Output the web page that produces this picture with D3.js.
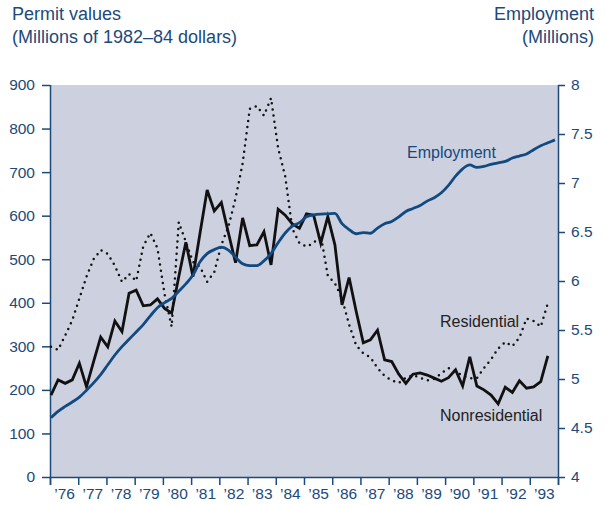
<!DOCTYPE html>
<html>
<head>
<meta charset="utf-8">
<style>
  body { margin: 0; background: #fff; }
  svg { display: block; font-family: "Liberation Sans", Arial, sans-serif; }
</style>
</head>
<body>
<div id="container"></div>
<script src="https://cdn.jsdelivr.net/npm/d3@7"></script>
<script>

// Quarterly data, 1976Q1 onward
// Nonresidential permit values (millions of 1982-84 dollars)
const nonres = [188,223,215,223,261,207,265,321,299,358,
  334,422,429,393,395,409,387,376,460,539,
  460,560,659,611,630,560,492,595,531,533,
  563,487,615,601,581,571,604,601,537,598,
  533,395,458,380,308,315,337,269,265,236,
  215,236,239,234,227,220,228,246,209,276,
  209,200,188,168,206,194,221,204,207,219,278];

// Residential permit values (millions of 1982-84 dollars)
const resid = [299,292,325,360,410,460,500,521,512,485,
  448,466,450,530,560,525,420,345,585,540,
  494,483,448,470,533,575,640,720,845,852,
  830,870,755,690,570,537,529,537,556,462,
  445,410,350,302,284,275,250,232,222,216,
  228,234,228,222,225,238,250,243,232,227,
  227,250,270,295,310,300,320,364,358,345,399];

// Employment (millions)
const employment = [4.605,4.67,4.72,4.765,4.815,4.885,4.96,5.045,5.145,5.245,
  5.33,5.405,5.48,5.555,5.645,5.728,5.78,5.823,5.895,5.97,
  6.06,6.197,6.28,6.32,6.345,6.316,6.243,6.175,6.156,6.156,
  6.205,6.28,6.39,6.49,6.56,6.595,6.655,6.675,6.683,6.685,
  6.69,6.585,6.525,6.482,6.493,6.487,6.54,6.585,6.607,6.655,
  6.71,6.74,6.77,6.815,6.85,6.9,6.975,7.07,7.145,7.184,
  7.16,7.17,7.19,7.205,7.22,7.255,7.275,7.296,7.34,7.38,7.41,7.44];

const years = d3.range(1976, 1995);
const yearLabels = d3.range(1976, 1994);
const leftTicks = d3.range(0, 901, 100);
const rightTicks = [4, 4.5, 5, 5.5, 6, 6.5, 7, 7.5, 8];

// Declare the chart dimensions and margins.
const width = 606;
const height = 505;
const marginTop = 85;
const marginRight = 48;
const marginBottom = 28;
const marginLeft = 50;

const blue = "#1c4a7a";
const lineBlue = "#114a80";

// x scale in years, and a data scale for the quarterly points
const x = d3.scaleLinear()
    .domain([1976, 1994])
    .range([marginLeft, width - marginRight]);

const xq = d3.scaleLinear()
    .domain([1976, 1993.5])
    .range([x(1976) + 1, x(1993.64)]);

const quarter = i => 1976 + i / 4;

const yL = d3.scaleLinear()
    .domain([0, 900])
    .range([height - marginBottom, marginTop]);

const yR = d3.scaleLinear()
    .domain([4, 8])
    .range([height - marginBottom, marginTop]);

const svg = d3.create("svg")
    .attr("width", width)
    .attr("height", height);

// plot background
svg.append("rect")
    .attr("x", x(1976))
    .attr("y", yL(900))
    .attr("width", x(1994) - x(1976))
    .attr("height", yL(0) - yL(900))
    .attr("fill", "#cdd0df");

/*** AXES ***/

const styleAxis = g => {
  g.selectAll("path, line").attr("stroke", blue).attr("stroke-width", 1.5);
  g.selectAll("text").attr("fill", blue).attr("font-size", 15.5)
      .attr("font-family", "Liberation Sans, Arial, sans-serif");
};

// x-axis ticks
svg.append("g")
    .attr("transform", `translate(0,${yL(0)})`)
    .call(d3.axisBottom(x).tickValues(years).tickSize(8).tickSizeOuter(0).tickFormat(""))
    .call(styleAxis);

// x-axis year labels, centred in each year
svg.append("g")
    .attr("transform", `translate(0,${yL(0)})`)
    .call(d3.axisBottom(x).tickValues(yearLabels.map(d => d + 0.5)).tickSize(0).tickPadding(11)
      .tickFormat(d => "\u2019" + String(Math.floor(d)).slice(2)))
    .call(g => g.select(".domain").remove())
    .call(styleAxis);

// left axis
svg.append("g")
    .attr("transform", `translate(${marginLeft},0)`)
    .call(d3.axisLeft(yL).tickValues(leftTicks).tickSize(8).tickSizeOuter(0).tickPadding(7))
    .call(g => g.select(".domain").attr("d", `M0.5,${yL(900)}V${yL(0) + 8}`))
    .call(styleAxis);

// right axis
svg.append("g")
    .attr("transform", `translate(${width - marginRight},0)`)
    .call(d3.axisRight(yR).tickValues(rightTicks).tickSize(7).tickSizeOuter(0).tickPadding(6)
      .tickFormat(d3.format("")))
    .call(g => g.select(".domain").attr("d", `M0.5,${yR(8)}V${yR(4) + 8}`))
    .call(styleAxis);

/*** LINES ***/

const lineL = d3.line()
    .x((d, i) => xq(quarter(i)))
    .y(d => yL(d));

const lineR = d3.line()
    .x((d, i) => xq(quarter(i)))
    .y(d => yR(d))
    .curve(d3.curveMonotoneX);

svg.append("path")
    .attr("fill", "none")
    .attr("stroke", "#111")
    .attr("stroke-width", 2.5)
    .attr("stroke-linecap", "round")
    .attr("stroke-dasharray", "0,6.2")
    .attr("d", lineL(resid));

svg.append("path")
    .attr("fill", "none")
    .attr("stroke", "#111")
    .attr("stroke-width", 2.8)
    .attr("stroke-linejoin", "miter")
    .attr("d", lineL(nonres));

svg.append("path")
    .attr("fill", "none")
    .attr("stroke", lineBlue)
    .attr("stroke-width", 2.8)
    .attr("d", lineR(employment));

/*** LABELS ***/

svg.append("text")
    .attr("x", 407).attr("y", 158)
    .attr("font-size", 16).attr("fill", lineBlue)
    .text("Employment");

svg.append("text")
    .attr("x", 440).attr("y", 327)
    .attr("font-size", 16).attr("fill", "#222")
    .text("Residential");

svg.append("text")
    .attr("x", 440).attr("y", 421)
    .attr("font-size", 16).attr("fill", "#222")
    .text("Nonresidential");

// titles
svg.append("text")
    .attr("x", 12).attr("y", 20)
    .attr("font-size", 18).attr("fill", blue)
    .text("Permit values");

svg.append("text")
    .attr("x", 12).attr("y", 43)
    .attr("font-size", 18).attr("fill", blue)
    .text("(Millions of 1982\u201384 dollars)");

svg.append("text")
    .attr("x", 594).attr("y", 20)
    .attr("text-anchor", "end")
    .attr("font-size", 18).attr("fill", blue)
    .text("Employment");

svg.append("text")
    .attr("x", 594).attr("y", 43)
    .attr("text-anchor", "end")
    .attr("font-size", 18).attr("fill", blue)
    .text("(Millions)");

container.append(svg.node());
</script>
</body>
</html>
